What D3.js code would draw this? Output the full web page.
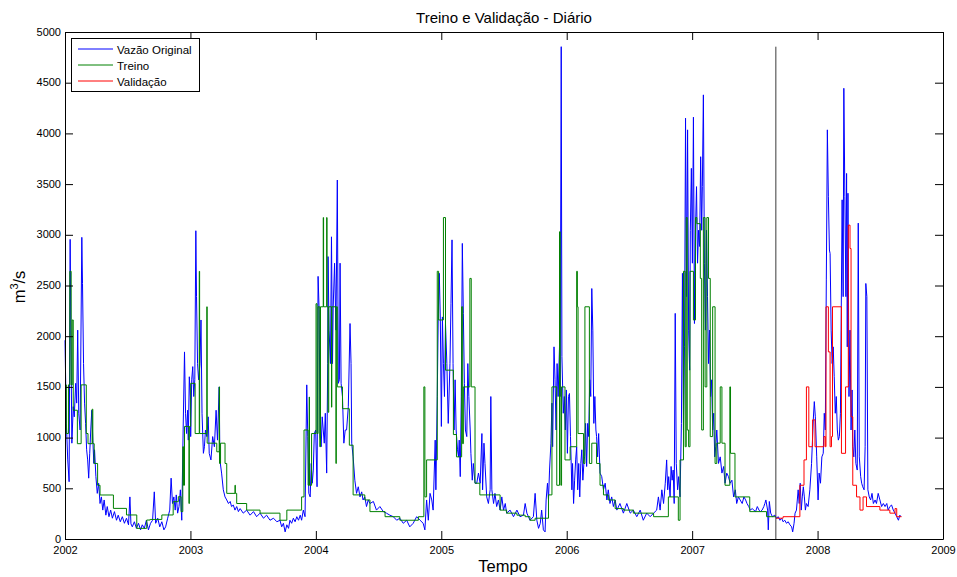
<!DOCTYPE html>
<html>
<head>
<meta charset="utf-8">
<title>Treino e Validação - Diário</title>
<script src="https://cdn.jsdelivr.net/npm/d3@7"></script>
<style>
    body{margin:0;background:#fff;}
    svg{display:block;font-family:"Liberation Sans",Arial,sans-serif;}
</style>
</head>
<body>
<svg id="chart" width="957" height="577"></svg>
<script>
//dados: [dias desde 01/01/2002, vazao m3/s]
var vazaoOriginal = [
    [0,1960],[4,1140],[8,780],[12,565],[15,2955],[17,2060],[20,945],[24,1305],[27,1205],[31,1535],[34,1340],[37,2060],[40,1240],[44,1075],[49,2975],[51,2520],[54,1730],[57,1340],[60,1140],[63,880],[66,780],[69,600],[72,845],[75,1075],[78,1270],[81,975],[84,745],[86,880],[90,615],[94,450],[98,550],[102,350],[106,415],[110,285],[114,385],[119,235],[123,320],[128,220],[133,285],[138,205],[144,270],[150,185],[155,235],[161,170],[167,220],[173,155],[179,205],[185,140],[189,415],[192,150],[196,120],[202,170],[208,105],[214,155],[220,90],[225,140],[231,105],[237,185],[243,90],[249,155],[255,185],[260,465],[264,155],[270,205],[276,120],[282,170],[288,90],[293,120],[299,205],[305,285],[309,600],[313,350],[317,415],[321,285],[324,435],[328,255],[332,320],[336,485],[340,185],[344,1075],[348,1845],[351,1240],[354,1040],[357,1270],[359,975],[362,1600],[365,1400],
    [366,1010],[369,1570],[372,1700],[375,1405],[378,1570],[381,3040],[383,2390],[386,1730],[389,1570],[393,1730],[396,2160],[399,1240],[403,845],[406,910],[409,1075],[413,1010],[417,1205],[420,845],[425,780],[430,1010],[435,910],[440,1270],[444,975],[449,1500],[451,780],[456,650],[461,485],[466,415],[471,385],[476,350],[481,370],[485,320],[490,335],[495,285],[500,320],[505,270],[510,300],[519,255],[529,285],[539,235],[549,270],[558,220],[568,255],[578,205],[587,235],[597,185],[607,205],[617,170],[626,185],[631,120],[636,155],[641,70],[646,140],[651,105],[655,185],[660,155],[665,205],[670,170],[675,220],[680,185],[685,235],[689,185],[694,285],[699,220],[704,1520],[707,1010],[710,450],[714,415],[717,745],[720,550],[723,680],[726,1040],[730,1075],
    [734,515],[737,2590],[740,2260],[743,1010],[746,910],[749,1205],[752,1075],[755,945],[758,1240],[762,650],[765,1730],[766,2785],[769,2060],[773,1730],[776,2980],[779,1730],[781,2290],[785,2720],[789,2060],[793,3540],[796,1535],[799,1570],[801,2720],[804,1535],[808,1405],[812,945],[816,1075],[820,1075],[825,1305],[830,2125],[833,1730],[835,945],[839,810],[844,580],[849,450],[854,515],[859,415],[864,465],[868,385],[873,415],[878,320],[883,385],[888,350],[898,370],[907,285],[917,320],[927,270],[936,255],[946,235],[956,220],[966,185],[975,205],[985,155],[995,185],[1004,120],[1014,155],[1024,220],[1034,185],[1043,155],[1048,90],[1053,385],[1058,185],[1063,450],[1068,385],[1072,285],[1078,975],[1080,485],[1084,1405],[1087,2225],[1090,2620],[1093,2160],
    [1096,1110],[1099,2190],[1102,1730],[1105,1405],[1108,2125],[1112,1730],[1116,1140],[1121,1730],[1124,2325],[1127,2950],[1130,1730],[1133,1075],[1136,1570],[1139,1075],[1143,880],[1146,810],[1148,975],[1151,615],[1154,1405],[1157,2915],[1160,2225],[1163,1535],[1166,1075],[1170,1010],[1173,1730],[1176,1405],[1180,1075],[1182,845],[1186,580],[1189,745],[1194,550],[1199,550],[1204,650],[1209,550],[1214,1040],[1216,485],[1220,945],[1223,745],[1228,415],[1233,350],[1238,485],[1240,1405],[1243,485],[1248,350],[1252,450],[1257,320],[1262,385],[1267,285],[1272,415],[1277,285],[1282,350],[1286,255],[1296,285],[1306,220],[1316,285],[1325,220],[1335,235],[1340,350],[1345,255],[1354,185],[1364,220],[1369,450],[1374,185],[1379,105],[1384,155],[1388,285],[1393,90],[1398,70],[1401,385],[1405,550],[1408,385],[1411,680],[1415,945],[1418,1340],[1420,910],[1424,1895],[1427,1570],[1430,1075],[1433,1730],[1436,1405],[1440,1895],[1442,1405],[1445,4855],[1447,1800],
    [1451,1240],[1454,1405],[1457,1075],[1460,1470],[1463,845],[1466,1405],[1469,1435],[1472,1010],[1476,485],[1478,745],[1481,350],[1484,580],[1487,780],[1490,910],[1493,485],[1496,745],[1499,415],[1502,745],[1505,880],[1508,580],[1511,745],[1513,810],[1516,1140],[1519,715],[1522,1140],[1525,1010],[1528,1570],[1531,1405],[1534,2470],[1537,2060],[1540,1140],[1543,1405],[1546,1075],[1548,1010],[1551,810],[1554,1040],[1558,650],[1563,615],[1568,485],[1573,550],[1578,385],[1582,485],[1587,350],[1592,415],[1597,320],[1602,385],[1607,285],[1616,350],[1626,255],[1636,350],[1646,255],[1655,285],[1665,220],[1675,285],[1684,185],[1694,255],[1704,220],[1714,255],[1723,285],[1728,415],[1733,285],[1738,485],[1743,350],[1748,550],[1752,780],[1755,485],[1758,615],[1762,415],[1765,715],[1768,580],[1771,680],[1774,350],[1777,2225],[1780,745],[1784,485],[1787,615],[1791,415],[1795,1140],[1798,2620],[1801,1075],[1804,1895],[1807,4150],[1810,2390],[1813,4035],[1816,2060],[1819,1665],[1821,3045],[1824,3655],
    [1827,2720],[1830,4160],[1833,2125],[1836,3045],[1839,3475],[1842,2720],[1845,3045],[1848,2885],[1851,3770],[1854,3045],[1856,3475],[1859,4380],[1862,2720],[1865,2060],[1868,3045],[1871,2390],[1874,1730],[1877,2060],[1880,1405],[1883,1570],[1886,1075],[1889,1240],[1892,810],[1895,910],[1898,1075],[1903,745],[1908,810],[1913,650],[1918,715],[1922,550],[1927,650],[1932,615],[1937,550],[1942,580],[1947,415],[1952,485],[1956,350],[1961,415],[1966,385],[1972,350],[1977,415],[1982,385],[1986,350],[1991,320],[1996,285],[2001,300],[2006,285],[2011,270],[2016,320],[2021,285],[2025,270],[2030,285],[2035,320],[2038,350],[2041,385],[2046,285],[2048,90],[2051,370],[2055,255],[2060,220],[2067,235],[2072,205],[2077,220],[2082,185],[2087,205],[2091,170],[2096,185],[2101,155],[2106,170],[2111,140],[2116,120],[2119,70],[2123,155],[2126,255],[2130,285],[2135,485],[2138,350],[2141,550],[2144,285],[2147,415],[2150,515],[2153,415],[2156,285],[2159,350],[2164,320],[2169,485],[2174,745],[2179,1175],[2182,1355],[2185,1205],[2189,810],
    [2193,385],[2196,650],[2200,550],[2204,810],[2208,845],[2211,1240],[2214,1075],[2217,2555],[2220,4035],[2223,3375],[2226,2850],[2228,2815],[2231,2060],[2234,1730],[2237,1895],[2240,1600],[2243,1240],[2246,1405],[2249,1075],[2252,975],[2255,1010],[2258,1240],[2260,2060],[2263,3345],[2266,2390],[2268,4445],[2271,3375],[2274,2390],[2276,3605],[2278,1895],[2280,3410],[2283,1405],[2286,2060],[2289,1075],[2292,1470],[2294,910],[2297,810],[2300,1075],[2303,745],[2307,680],[2310,3115],[2313,810],[2317,615],[2320,550],[2323,515],[2327,485],[2330,910],[2332,2520],[2335,2390],[2338,485],[2342,415],[2346,385],[2350,450],[2354,350],[2359,385],[2363,350],[2368,450],[2373,385],[2378,320],[2383,350],[2388,320],[2393,350],[2397,285],[2402,320],[2407,335],[2412,285],[2417,255],[2422,220],[2427,185],[2431,235],[2434,220]
];

//treino: valores em degraus (inicio de cada degrau)
var treino = [
    [0,1520],[4,1040],[10,1520],[14,2640],[18,1520],[21,2160],[24,1270],[36,940],[47,1520],[62,1040],[67,940],[79,1280],[81,940],[85,745],[95,530],[102,434],[141,302],[179,237],[209,105],[238,187],[248,193],[282,237],[315,368],[330,417],[338,270],[343,910],[345,530],[348,1110],[361,350],[362,1110],[366,1535],[379,1040],[391,2640],[392,1040],[413,2290],[414,945],[442,860],[449,1500],[450,745],[453,945],[466,745],[471,450],[495,530],[496,450],[500,350],[529,285],[568,255],[626,185],[646,285],[689,415],
    [696,1075],[708,530],[711,1400],[712,530],[718,1040],[731,2320],[734,1040],[737,2290],[742,910],[744,2290],[752,3170],[753,2290],[762,3170],[763,2290],[766,1250],[768,2290],[776,1300],[777,2290],[789,745],[790,2290],[793,1500],[808,1285],[828,925],[839,435],[873,385],[888,270],[932,220],[975,185],[1029,220],[1045,1500],[1048,415],[1053,780],[1084,2640],[1088,2160],[1102,3170],[1108,1665],[1131,1030],[1140,810],[1155,2290],[1158,940],[1160,1500],[1179,2570],[1183,1500],[1194,550],[1208,435],[1267,285],[1286,255],[1316,235],[1340,220],[1354,185],[1369,205],
    [1408,435],[1418,1500],[1432,530],[1440,3030],[1442,1500],[1444,530],[1446,1500],[1456,780],[1471,910],[1490,2640],[1492,2290],[1494,1040],[1510,745],[1514,2290],[1527,745],[1534,945],[1548,745],[1558,530],[1568,435],[1582,385],[1602,300],[1626,285],[1655,255],[1714,220],[1757,415],[1786,185],[1791,780],[1801,2640],[1806,910],[1809,3170],[1812,1075],[1816,910],[1820,2640],[1830,2160],[1836,3170],[1840,3110],[1850,2570],[1854,1075],[1859,3170],[1864,1500],[1869,3170],[1874,2570],[1879,1010],[1886,2290],[1893,745],[1898,945],[1908,1500],[1913,945],[1922,530],[1936,1500],[1938,845],[1951,415],[1994,270],[2043,220],[2070,220]
];

var validacao = [
    [2070,205],[2091,220],[2140,530],[2152,780],[2159,1500],[2166,910],[2177,1175],[2184,910],[2210,1010],[2214,910],[2216,2290],[2223,1845],[2228,910],[2232,1010],[2235,2290],[2261,845],[2273,1500],[2281,3095],[2286,2865],[2289,1205],[2294,530],[2305,415],[2315,285],[2324,415],[2334,320],[2373,285],[2402,255],[2417,300],[2422,220],[2436,220]
];

var anos = [2002,2003,2004,2005,2006,2007,2008,2009];
var yTicks = [0,500,1000,1500,2000,2500,3000,3500,4000,4500,5000];
var nomes = ["Vazão Original","Treino","Validação"];
var cores = ["#0000ff","#008000","#ff0000"];

var svg = d3.select("#chart");

//escala em anos decimais
function ano(dia){ return 2002 + dia/365.25; }

var x = d3.scaleLinear().domain([2002,2009]).range([65,943]);
var y = d3.scaleLinear().domain([0,5000]).range([539,32]);

var linha = d3.line()
    .x(d=>x(ano(d[0])))
    .y(d=>y(d[1]));

var degrau = d3.line()
    .x(d=>x(ano(d[0])))
    .y(d=>y(d[1]))
    .curve(d3.curveStepAfter);

//series
svg.append("path")
    .datum(vazaoOriginal)
    .attr("fill","none")
    .attr("stroke",cores[0])
    .attr("stroke-width",1)
    .attr("d",linha);

svg.append("path")
    .datum(treino)
    .attr("fill","none")
    .attr("stroke",cores[1])
    .attr("stroke-width",1)
    .attr("d",degrau);

svg.append("path")
    .datum(validacao)
    .attr("fill","none")
    .attr("stroke",cores[2])
    .attr("stroke-width",1)
    .attr("d",degrau);

//linha separando treino e validacao
var corte = validacao[0][0];
svg.append("line")
    .attr("x1",x(ano(corte))).attr("x2",x(ano(corte)))
    .attr("y1",y(0)).attr("y2",y(d3.max(vazaoOriginal,d=>d[1])))
    .attr("stroke","#3a3a3a")
    .attr("stroke-width",1);

//eixos com ticks para dentro (estilo matlab)
function estilo(g){
    g.attr("font-family",null).attr("font-size",11);
    g.selectAll("path,line").attr("stroke","#000");
    g.selectAll("text").attr("fill","#000");
}

svg.append("g")
    .attr("transform","translate(0,539)")
    .call(d3.axisBottom(x).tickValues(anos).tickFormat(d3.format("d")).tickSize(-8).tickSizeOuter(0).tickPadding(7))
    .call(estilo);

svg.append("g")
    .attr("transform","translate(0,32)")
    .call(d3.axisTop(x).tickValues(anos).tickFormat("").tickSize(-8).tickSizeOuter(0))
    .call(estilo);

svg.append("g")
    .attr("transform","translate(65,0)")
    .call(d3.axisLeft(y).tickValues(yTicks).tickFormat(d3.format("d")).tickSize(-8).tickSizeOuter(0).tickPadding(4))
    .call(estilo)
    .selectAll("text").attr("dy","0.28em");

svg.append("g")
    .attr("transform","translate(943,0)")
    .call(d3.axisRight(y).tickValues(yTicks).tickFormat("").tickSize(-8).tickSizeOuter(0))
    .call(estilo);

//textos
svg.append("text")
    .attr("x",504).attr("y",23)
    .attr("text-anchor","middle")
    .attr("font-size",15)
    .text("Treino e Validação - Diário");

svg.append("text")
    .attr("x",503).attr("y",572)
    .attr("text-anchor","middle")
    .attr("font-size",16.5)
    .text("Tempo");

var yLabel = svg.append("text")
    .attr("transform","translate(25,287) rotate(-90)")
    .attr("text-anchor","middle")
    .attr("font-size",16.5);
yLabel.append("tspan").text("m");
yLabel.append("tspan").attr("font-size",11).attr("dy",-7).text("3");
yLabel.append("tspan").attr("dy",7).text("/s");

//legenda
var legenda = svg.append("g");
legenda.append("rect")
    .attr("x",71.5).attr("y",38.5)
    .attr("width",128).attr("height",53)
    .attr("fill","#fff")
    .attr("stroke","#000");

nomes.forEach(function(nome,i){
    var ly = 49 + i*16;
    legenda.append("line")
        .attr("x1",78).attr("x2",113)
        .attr("y1",ly).attr("y2",ly)
        .attr("stroke",cores[i]);
    legenda.append("text")
        .attr("x",117).attr("y",ly+1)
        .attr("dy","0.35em")
        .attr("font-size",11.5)
        .text(nome);
});
</script>
</body>
</html>
